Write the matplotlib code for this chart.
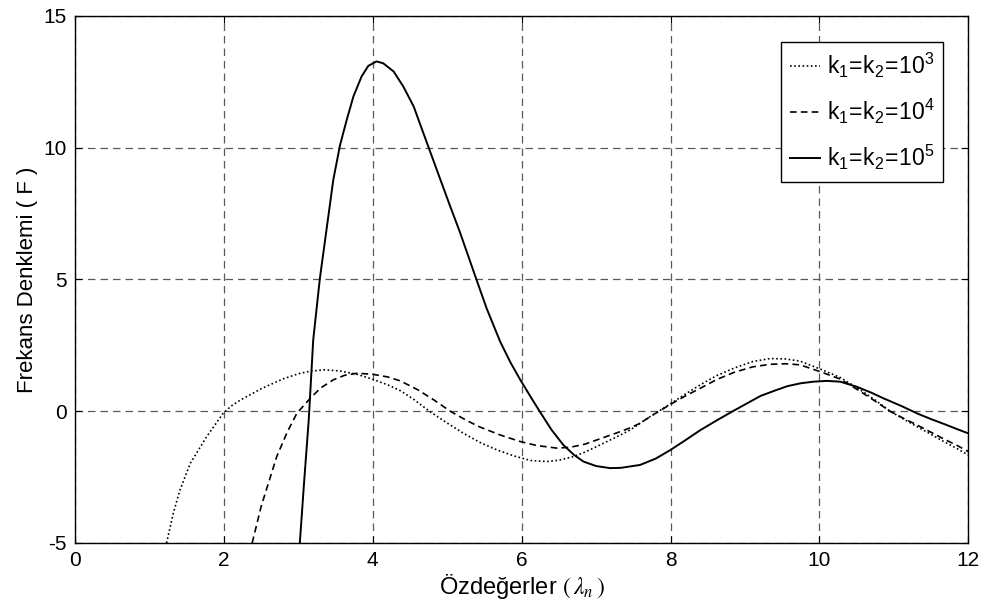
import numpy as np
import matplotlib
matplotlib.use("Agg")
import matplotlib.pyplot as plt

plt.rcParams['font.family'] = ['Liberation Sans', 'DejaVu Sans']
plt.rcParams['mathtext.fontset'] = 'stix'
plt.rcParams['axes.unicode_minus'] = False

# k1 = k2 = 10^3 (dotted)
x_k3 = [1.23, 1.32, 1.41, 1.55, 1.77, 1.99, 2.1, 2.22, 2.35, 2.5, 2.6, 2.8, 3.0, 3.16, 3.35, 3.55,
        3.79, 4.0, 4.2, 4.37, 4.55, 4.77, 5.0, 5.22, 5.45, 5.67, 5.9, 6.12, 6.34, 6.5,
        6.7, 6.85, 7.01, 7.17, 7.33, 7.46, 7.59, 7.73, 8.0, 8.2, 8.4, 8.62, 8.85, 9.1,
        9.34, 9.55, 9.74, 10.01, 10.28, 10.55, 10.75, 10.95, 11.13, 11.31, 11.5, 11.67,
        11.85, 12.0]
y_k3 = [-5.0, -3.87, -2.99, -1.97, -0.96, -0.08, 0.2, 0.42, 0.62, 0.85, 0.98, 1.23, 1.42, 1.52, 1.57, 1.53,
        1.40, 1.21, 1.0, 0.78, 0.45, -0.02, -0.45, -0.84, -1.2, -1.47, -1.70, -1.87, -1.91, -1.86,
        -1.72, -1.55, -1.34, -1.12, -0.90, -0.71, -0.46, -0.2, 0.28, 0.65, 1.0, 1.35, 1.63, 1.88,
        2.0, 1.98, 1.9, 1.6, 1.28, 0.81, 0.42, 0.0, -0.3, -0.58, -0.88, -1.15,
        -1.42, -1.66]

# k1 = k2 = 10^4 (dashed)
x_k4 = [2.38, 2.5, 2.71, 2.85, 2.98, 3.16, 3.3, 3.47, 3.62, 3.79, 4.0, 4.2, 4.37, 4.6, 4.82,
        5.04, 5.26, 5.44, 5.71, 5.98, 6.2, 6.47, 6.65, 6.85, 7.01, 7.17, 7.33, 7.46, 7.59,
        7.73, 8.0, 8.2, 8.4, 8.62, 8.85, 9.1, 9.34, 9.55, 9.74, 10.01, 10.28, 10.55, 10.75,
        10.95, 11.13, 11.31, 11.5, 11.67, 11.85, 12.0]
y_k4 = [-5.0, -3.62, -1.72, -0.8, -0.08, 0.49, 0.88, 1.19, 1.36, 1.44, 1.40, 1.3, 1.15, 0.82, 0.43,
        0.0, -0.35, -0.6, -0.90, -1.15, -1.30, -1.40, -1.37, -1.25, -1.09, -0.93, -0.77, -0.63, -0.46,
        -0.2, 0.26, 0.58, 0.87, 1.2, 1.47, 1.68, 1.78, 1.8, 1.76, 1.5, 1.22, 0.75, 0.38,
        0.0, -0.27, -0.52, -0.8, -1.05, -1.3, -1.53]

# k1 = k2 = 10^5 (solid)
x_k5 = [3.02, 3.08, 3.14, 3.2, 3.29, 3.36, 3.47, 3.56, 3.65, 3.74, 3.85, 3.94, 4.05, 4.14,
        4.28, 4.41, 4.55, 4.68, 4.86, 5.03, 5.17, 5.38, 5.53, 5.71, 5.85, 5.98, 6.12, 6.23,
        6.4, 6.56, 6.7, 6.83, 7.0, 7.19, 7.33, 7.59, 7.8, 8.0, 8.2, 8.4, 8.62, 8.85, 9.03,
        9.21, 9.4, 9.57, 9.75, 9.92, 10.1, 10.28, 10.5, 10.7, 10.86, 11.1, 11.31, 11.5,
        11.67, 11.85, 12.0]
y_k5 = [-5.0, -2.6, -0.33, 2.7, 5.05, 6.5, 8.78, 10.09, 11.05, 11.94, 12.7, 13.1, 13.27, 13.2,
        12.89, 12.32, 11.56, 10.55, 9.16, 7.85, 6.8, 5.1, 3.9, 2.65, 1.85, 1.2, 0.55, 0.05,
        -0.7, -1.28, -1.65, -1.91, -2.08, -2.16, -2.15, -2.04, -1.8, -1.47, -1.1, -0.72, -0.35, 0.02, 0.3,
        0.58, 0.78, 0.95, 1.06, 1.12, 1.15, 1.12, 0.93, 0.7, 0.49, 0.2, -0.08, -0.3,
        -0.48, -0.68, -0.84]

labels = [r'$\mathregular{k_1\!=\!k_2\!=\!10^3}$',
          r'$\mathregular{k_1\!=\!k_2\!=\!10^4}$',
          r'$\mathregular{k_1\!=\!k_2\!=\!10^5}$']

fig = plt.figure(figsize=(9.87, 6.13), dpi=100)
ax = fig.add_axes([0.076, 0.1142, 0.905, 0.86])

ax.plot(x_k3, y_k3, color='k', lw=1.2, linestyle=(0, (1, 1.5)), label=labels[0])
ax.plot(x_k4, y_k4, color='k', lw=1.2, linestyle=(0, (4, 2.5)), label=labels[1])
ax.plot(x_k5, y_k5, color='k', lw=1.4, linestyle='-', label=labels[2])

ax.set_xlim(0, 12)
ax.set_ylim(-5, 15)
ax.set_xticks([0, 2, 4, 6, 8, 10, 12])
ax.set_yticks([-5, 0, 5, 10, 15])
ax.grid(True, color='0.35', lw=0.9, linestyle=(0, (6, 4)))
ax.tick_params(direction='in', top=True, right=True, labelsize=15, length=5, pad=6)
for s in ax.spines.values():
    s.set_linewidth(1.0)

ax.set_xlabel('Özdeğerler ' + r'$(\,\lambda_{n}\,)$', fontsize=17, labelpad=1)
ax.set_ylabel('Frekans Denklemi ( F )', fontsize=16, labelpad=4)

leg = ax.legend(loc='upper right', bbox_to_anchor=(0.972, 0.951), borderaxespad=0,
                fontsize=16.5, handlelength=1.3, handletextpad=0.3, labelspacing=0.75,
                fancybox=False, framealpha=1, edgecolor='k', borderpad=0.4)
leg.get_frame().set_linewidth(1.0)

fig.savefig('out.png', dpi=100)
